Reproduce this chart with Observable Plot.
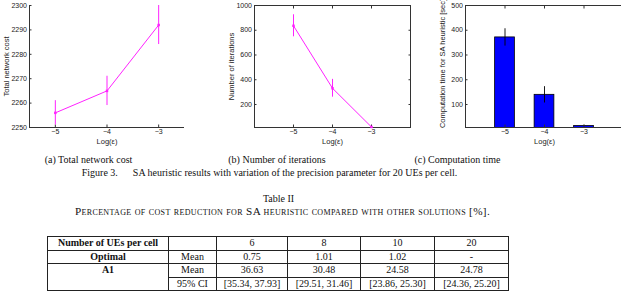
<!DOCTYPE html>
<html><head><meta charset="utf-8">
<script src="https://cdn.jsdelivr.net/npm/d3@7"></script>
<script src="https://cdn.jsdelivr.net/npm/@observablehq/plot@0.6"></script>
<style>
html,body{margin:0;padding:0;overflow:hidden;background:#fff;width:621px;height:292px}
#root{position:relative;width:621px;height:292px;overflow:hidden}
#root svg{position:absolute;top:0;overflow:visible;max-width:none}
.cap{position:absolute;font-family:"Liberation Serif","Times New Roman",serif;font-size:10px;white-space:pre;transform:translate(-50%,-50%);line-height:1;color:#111}
table{position:absolute;left:47px;top:236px;border-collapse:collapse;table-layout:fixed;font-family:"Liberation Serif","Times New Roman",serif;font-size:10px;color:#111}
td{border:1px solid #222;text-align:center;padding:0;height:12.5px;line-height:12px;white-space:nowrap;font-family:"Liberation Serif","Times New Roman",serif}
td.b{font-weight:bold}
</style></head><body><div id="root"></div>
<script>
// ---- data ----
const logEps = [-5, -4, -3];
const xTicks = [-5, -4, -3];
const costMean = [2256, 2265, 2292];
const costLo = [2251, 2259, 2284];
const costHi = [2261, 2271, 2300];
const iterMean = [836, 331, 18];
const iterLo = [747, 259, 15];
const iterHi = [925, 403, 21];
const timeMean = [371, 139, 13];
const timeLo = [336, 106, 10];
const timeHi = [406, 172, 16];
const yTicksA = [2250, 2260, 2270, 2280, 2290, 2300];
const yTicksB = [200, 400, 600, 800, 1000];
const yTicksC = [100, 200, 300, 400, 500];
const subCaptions = ["(a) Total network cost", "(b) Number of iterations", "(c) Computation time"];
const figCaption = "Figure 3.\u2002\u2003SA heuristic results with variation of the precision parameter for 20 UEs per cell.";
const tableNum = "Table II";
const tableTitle = "Percentage of cost reduction for SA heuristic compared with other solutions [%].";
const ues = ["6", "8", "10", "20"];
const optimalMean = ["0.75", "1.01", "1.02", "-"];
const a1Mean = ["36.63", "30.48", "24.58", "24.78"];
const a1CI = ["[35.34, 37.93]", "[29.51, 31.46]", "[23.86, 25.30]", "[24.36, 25.20]"];

const root = document.getElementById("root");
const sans = "'Liberation Sans', Arial, Helvetica, sans-serif";
const fmt = d => String(d).replace("-", "\u2212");
const mag = "#ff22ff";
const axisCol = "#333";

function rows(m, lo, hi) { return logEps.map((x, i) => ({x, m: m[i], lo: lo[i], hi: hi[i]})); }
function inward(ticksX, ticksY, sides) {
  const out = [];
  if (sides.includes("b")) out.push(Plot.axisX({ticks: ticksX, tickSize: 2.5, dy: -2.5, fill: "none", stroke: axisCol, label: null}));
  if (sides.includes("t")) out.push(Plot.axisX({anchor: "top", ticks: ticksX, tickSize: 2.5, dy: 2.5, fill: "none", stroke: axisCol, label: null}));
  if (sides.includes("l")) out.push(Plot.axisY({ticks: ticksY, tickSize: 2.5, dx: 2.5, fill: "none", stroke: axisCol, label: null}));
  if (sides.includes("r")) out.push(Plot.axisY({anchor: "right", ticks: ticksY, tickSize: 2.5, dx: -2.5, fill: "none", stroke: axisCol, label: null}));
  return out;
}
function labels(ticksX, ticksY, ylab, ydy) {
  return [
    Plot.axisX({ticks: ticksX, tickFormat: fmt, tickSize: 0, tickPadding: 2, label: null, fill: "#222"}),
    Plot.axisY({ticks: ticksY, tickFormat: d => String(d), tickSize: 0, tickPadding: 2.5, label: null, fill: "#222"}),
    Plot.text(["Log(\u03b5)"], {text: d => d, frameAnchor: "bottom", textAnchor: "middle", lineAnchor: "middle", dy: 14, fontSize: 7.5, fill: "#222"}),
    Plot.text([ylab], {text: d => d, frameAnchor: "left", textAnchor: "middle", lineAnchor: "middle", rotate: -90, dx: -23, dy: ydy, fontSize: 7.5, fill: "#222"})
  ];
}
function place(svg, left) { svg.style.left = left + "px"; root.appendChild(svg); }

// ---- chart a ----
const dA = rows(costMean, costLo, costHi);
const yDomA = [2250, 2300], xDomA = [-5.5, -2.5];
place(Plot.plot({
  width: 205, height: 145, marginLeft: 29, marginRight: 21, marginTop: 5, marginBottom: 18,
  style: {fontFamily: sans, fontSize: "7px", background: "transparent", overflow: "visible"},
  x: {domain: xDomA}, y: {domain: yDomA},
  marks: [
    Plot.ruleX([xDomA[0]], {stroke: axisCol}),
    Plot.ruleY([yDomA[0]], {stroke: axisCol}),
    ...inward(xTicks, yTicksA, "bl"),
    ...labels(xTicks, yTicksA, "Total network cost", 0),
    Plot.ruleX(dA, {x: "x", y1: "lo", y2: "hi", stroke: mag, strokeWidth: 1, clip: true}),
    Plot.line(dA, {x: "x", y: "m", stroke: mag, strokeWidth: 1}),
    Plot.dot(dA, {x: "x", y: "m", r: 1.4, fill: mag, symbol: "square"})
  ]
}), 0);

// ---- chart b ----
const dB = rows(iterMean, iterLo, iterHi);
place(Plot.plot({
  width: 210, height: 145, marginLeft: 49, marginRight: 5, marginTop: 5, marginBottom: 18,
  style: {fontFamily: sans, fontSize: "7px", background: "transparent", overflow: "visible"},
  x: {domain: [-6, -2]}, y: {domain: [14, 1000]},
  marks: [
    Plot.frame({stroke: axisCol}),
    ...inward(xTicks, yTicksB, "bltr"),
    ...labels(xTicks, yTicksB, "Number of iterations", 0),
    Plot.ruleX(dB, {x: "x", y1: "lo", y2: "hi", stroke: mag, strokeWidth: 1, clip: true}),
    Plot.line(dB, {x: "x", y: "m", stroke: mag, strokeWidth: 1}),
    Plot.dot(dB, {x: "x", y: "m", r: 1.4, fill: mag, symbol: "square"})
  ]
}), 205);

// ---- chart c ----
const dC = rows(timeMean, timeLo, timeHi);
place(Plot.plot({
  width: 208, height: 145, marginLeft: 50, marginRight: 0, marginTop: 5, marginBottom: 18,
  style: {fontFamily: sans, fontSize: "7px", background: "transparent", overflow: "visible"},
  x: {domain: [-6, -2]}, y: {domain: [7, 500]},
  marks: [
    Plot.rectY(dC, {x1: d => d.x - 0.25, x2: d => d.x + 0.25, y1: 0, y2: "m", fill: "#0000ff", stroke: "#000", strokeWidth: 0.8, clip: true}),
    Plot.ruleX(dC, {x: "x", y1: "lo", y2: "hi", stroke: "#000", strokeWidth: 0.9}),
    Plot.frame({stroke: axisCol}),
    ...inward(xTicks, yTicksC, "bltr"),
    ...labels(xTicks, yTicksC, "Computation time for SA heuristic [sec]", -3)
  ]
}), 415);

// ---- captions ----
function cap(text, x, y, extra) {
  const d = document.createElement("div");
  d.className = "cap"; d.textContent = text;
  d.style.left = x + "px"; d.style.top = y + "px";
  if (extra) Object.assign(d.style, extra);
  root.appendChild(d);
}
cap(subCaptions[0], 88.5, 160);
cap(subCaptions[1], 277, 160);
cap(subCaptions[2], 457.5, 160);
cap(figCaption, 269.5, 173);
cap(tableNum, 278.5, 199);
cap(tableTitle, 282.5, 212, {fontVariant: "small-caps", fontSize: "11.2px", letterSpacing: "0.35px"});

// ---- table ----
const colW = [121, 48, 71, 73, 74, 74];
const table = document.createElement("table");
const cg = document.createElement("colgroup");
colW.forEach(w => { const c = document.createElement("col"); c.style.width = w + "px"; cg.appendChild(c); });
table.appendChild(cg);
table.style.width = d3.sum(colW) + "px";
function tr(cells) {
  const r = document.createElement("tr");
  cells.forEach(c => {
    const td = document.createElement("td");
    td.textContent = c.t;
    if (c.b) td.className = "b";
    if (c.rs) { td.rowSpan = c.rs; td.style.verticalAlign = "top"; }
    r.appendChild(td);
  });
  table.appendChild(r);
}
tr([{t: "Number of UEs per cell", b: 1}, {t: ""}, ...ues.map(t => ({t}))]);
tr([{t: "Optimal", b: 1}, {t: "Mean"}, ...optimalMean.map(t => ({t}))]);
tr([{t: "A1", b: 1, rs: 2}, {t: "Mean"}, ...a1Mean.map(t => ({t}))]);
tr([{t: "95% CI"}, ...a1CI.map(t => ({t}))]);
root.appendChild(table);
</script></body></html>
